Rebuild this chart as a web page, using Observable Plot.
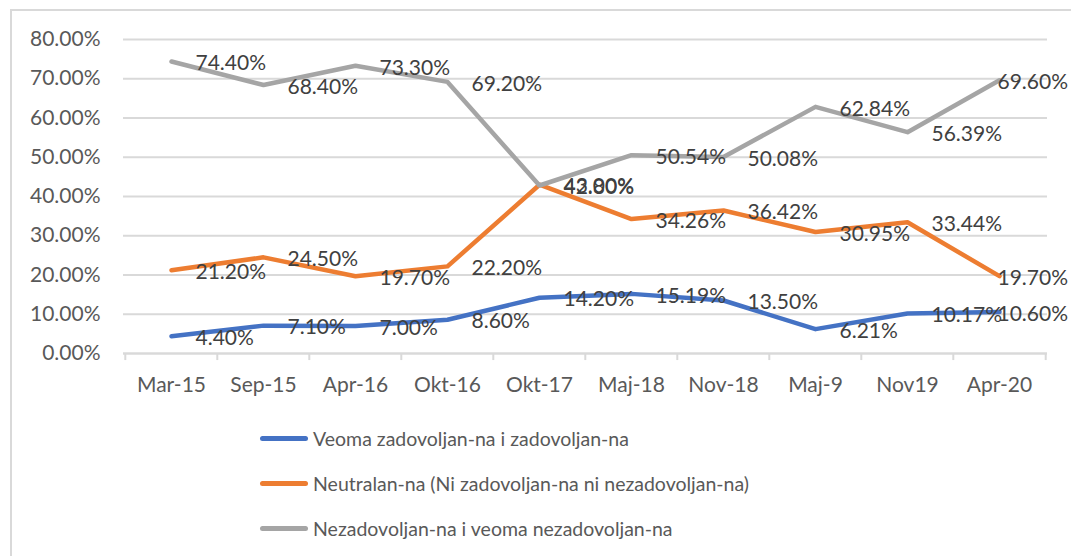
<!DOCTYPE html>
<html>
<head>
<meta charset="utf-8">
<script src="https://cdn.jsdelivr.net/npm/d3@7"></script>
<script src="https://cdn.jsdelivr.net/npm/@observablehq/plot@0.6"></script>
<style>
  html, body { margin: 0; padding: 0; background: #fff; }
  #wrap { position: relative; width: 1071px; height: 556px; overflow: hidden; font-family: Lato, sans-serif; }
  #border { position: absolute; left: 10px; top: 9px; width: 1200px; height: 700px; border-left: 2px solid #d9d9d9; border-top: 2px solid #d9d9d9; }
  #chart { position: absolute; left: 0; top: 0; }
  #legend { position: absolute; left: 260px; top: 416px; }
  .item { display: flex; align-items: center; height: 45px; font-size: 19.5px; color: #595959; }
  .sw { width: 48px; height: 5px; border-radius: 3px; margin-right: 5px; }
</style>
</head>
<body>
<div id="wrap">
  <div id="border"></div>
  <div id="chart"></div>
  <div id="legend"></div>
</div>
<script>
const categories = ["Mar-15","Sep-15","Apr-16","Okt-16","Okt-17","Maj-18","Nov-18","Maj-9","Nov19","Apr-20"];
const seriesNames = [
  "Veoma zadovoljan-na i zadovoljan-na",
  "Neutralan-na (Ni zadovoljan-na ni nezadovoljan-na)",
  "Nezadovoljan-na i veoma nezadovoljan-na"
];
const veoma = [4.40, 7.10, 7.00, 8.60, 14.20, 15.19, 13.50, 6.21, 10.17, 10.60];
const neutral = [21.20, 24.50, 19.70, 22.20, 43.00, 34.26, 36.42, 30.95, 33.44, 19.70];
const nezad = [74.40, 68.40, 73.30, 69.20, 42.80, 50.54, 50.08, 62.84, 56.39, 69.60];
const colors = ["#4472C4", "#ED7D31", "#A5A5A5"];
const yTicks = [0, 10, 20, 30, 40, 50, 60, 70, 80];

const seriesValues = [veoma, neutral, nezad];
const data = [];
seriesValues.forEach((vals, s) => vals.forEach((v, i) => data.push({cat: categories[i], series: seriesNames[s], value: v, i})));

const width = 1071, height = 400;
const mL = 123, mR = 24, mT = 39, mB = 47;
const step = (width - mL - mR) / categories.length;
const last = categories.length - 1;
const fmt = d => d.toFixed(2) + "%";

const plot = Plot.plot({
  width, height,
  marginLeft: mL, marginRight: mR, marginTop: mT, marginBottom: mB,
  style: {fontSize: "21px", fontFamily: "Lato, sans-serif", color: "#595959", background: "transparent", overflow: "visible"},
  x: {type: "point", domain: categories, padding: 0.5},
  y: {domain: [0, 80]},
  color: {domain: seriesNames, range: colors},
  marks: [
    Plot.gridY(yTicks, {stroke: "#d9d9d9", strokeOpacity: 1, strokeWidth: 2}),
    Plot.ruleY([0], {stroke: "#d9d9d9", strokeWidth: 2}),
    Plot.ruleX(categories, {x: d => d, dx: -step / 2, y1: 0, y2: -1.8, stroke: "#d9d9d9", strokeWidth: 2}),
    Plot.ruleX([categories[last]], {x: d => d, dx: step / 2, y1: 0, y2: -1.8, stroke: "#d9d9d9", strokeWidth: 2}),
    Plot.axisY(yTicks, {tickSize: 0, tickPadding: 23, tickFormat: fmt, label: null}),
    Plot.axisX({tickSize: 0, tickPadding: 24, label: null}),
    Plot.line(data, {x: "cat", y: "value", stroke: "series", z: "series", strokeWidth: 4.5, strokeLinejoin: "round", strokeLinecap: "round"}),
    Plot.text(data.filter(d => d.i !== last), {x: "cat", y: "value", text: d => fmt(d.value), textAnchor: "start", dx: 24, dy: 2, fill: "#404040"}),
    Plot.text(data.filter(d => d.i === last), {x: "cat", y: "value", text: d => fmt(d.value), textAnchor: "start", dx: -2, dy: 2, fill: "#404040"})
  ]
});
document.getElementById("chart").appendChild(plot);

const legend = document.getElementById("legend");
seriesNames.forEach((name, s) => {
  const item = document.createElement("div");
  item.className = "item";
  const sw = document.createElement("div");
  sw.className = "sw";
  sw.style.background = colors[s];
  const label = document.createElement("span");
  label.textContent = name;
  item.appendChild(sw);
  item.appendChild(label);
  legend.appendChild(item);
});
</script>
</body>
</html>
